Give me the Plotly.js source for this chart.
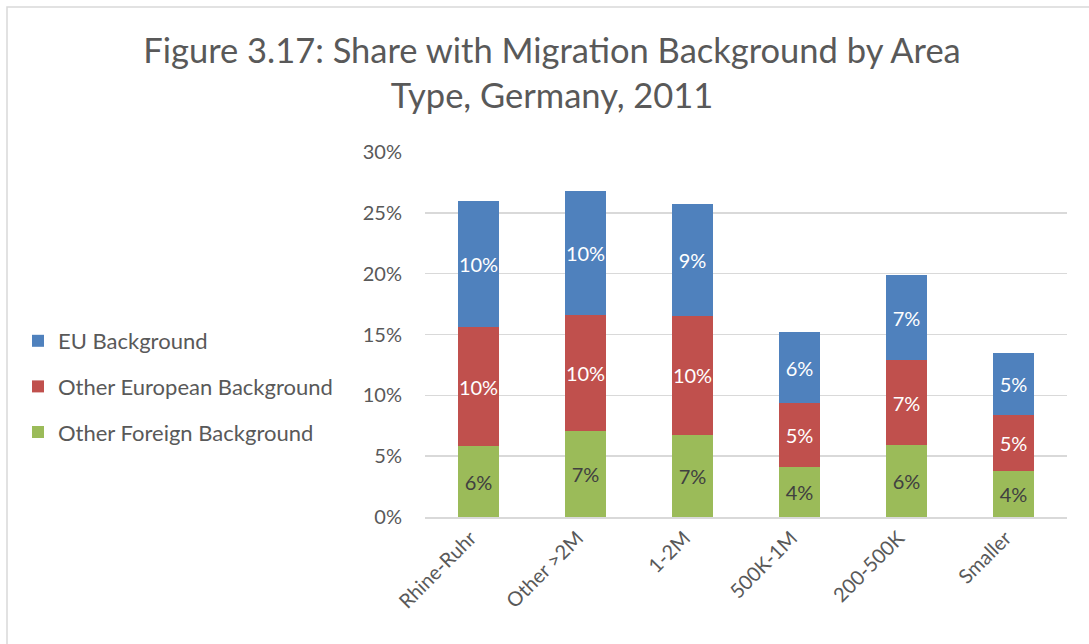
<!DOCTYPE html>
<html>
<head>
<meta charset="utf-8">
<script src="https://cdn.plot.ly/plotly-3.0.1.min.js"></script>
<style>html,body{margin:0;padding:0;background:#fff;}#chart{width:1089px;height:644px;}</style>
</head>
<body>
<div id="chart"></div>
<script>
const categories = ["Rhine-Ruhr", "Other >2M", "1-2M", "500K-1M", "200-500K", "Smaller"];
const otherForeign = [5.83, 7.06, 6.73, 4.09, 5.88, 3.76];
const otherEuropean = [9.77, 9.51, 9.82, 5.25, 7.00, 4.61];
const euBackground = [10.35, 10.20, 9.16, 5.84, 7.02, 5.15];
const yTicks = [0, 5, 10, 15, 20, 25, 30];

const W = 1089, H = 644;
const L = 425, R = 22, T = 152, B = 127;
const pw = W - L - R, ph = H - T - B;
const FONT = "Lato, 'Open Sans', sans-serif";

function lbl(arr) { return arr.map(v => Math.round(v) + "%"); }

function trace(name, vals, color, txtColor, grp, rank) {
  return {
    type: "bar", name: name, x: categories, y: vals,
    marker: {color: color},
    text: lbl(vals), textposition: "inside", insidetextanchor: "middle",
    textfont: {family: FONT, size: 20, color: txtColor},
    textangle: 0, constraintext: "none",
    legendgroup: grp, legendrank: rank, hoverinfo: "skip"
  };
}

const data = [
  trace("Other Foreign Background", otherForeign, "#9BBB59", "#404040", "g3", 3),
  trace("Other European Background", otherEuropean, "#C0504D", "#ffffff", "g2", 2),
  trace("EU Background", euBackground, "#4F81BD", "#ffffff", "g1", 1)
];

const layout = {
  width: W, height: H,
  margin: {l: L, r: R, t: T, b: B},
  paper_bgcolor: "#ffffff", plot_bgcolor: "#ffffff",
  barmode: "stack", bargap: 0.61,
  font: {family: FONT, color: "#595959", size: 20},
  title: {
    text: "Figure 3.17: Share with Migration Background by Area<br>Type, Germany, 2011",
    font: {family: FONT, size: 34.5, color: "#595959"},
    x: 552 / W, xanchor: "center", xref: "container",
    y: 1 - 63 / H, yanchor: "top", yref: "container"
  },
  showlegend: true,
  legend: {
    traceorder: "grouped", tracegroupgap: 14,
    xref: "container", yref: "container",
    x: 18 / W, xanchor: "left", y: 1 - 320 / H, yanchor: "top",
    font: {family: FONT, size: 22, color: "#595959"},
    bgcolor: "rgba(0,0,0,0)"
  },
  uniformtext: {minsize: 20, mode: "show"},
  xaxis: {
    type: "category", tickangle: -45,
    tickfont: {family: FONT, size: 20, color: "#595959"},
    showgrid: false, showline: true, linecolor: "#d9d9d9", linewidth: 1.5,
    ticks: "", ticklabelshift: -8, fixedrange: true
  },
  yaxis: {
    range: [0, 30], tickvals: yTicks, ticktext: yTicks.map(v => v + "%"),
    tickfont: {family: FONT, size: 20, color: "#595959"},
    showgrid: true, gridcolor: "#d9d9d9", gridwidth: 1.5,
    zeroline: false, showline: false, ticks: "", ticklabelstandoff: 22,
    fixedrange: true
  },
  shapes: [{
    type: "rect", xref: "paper", yref: "paper",
    x0: (7 - L) / pw, x1: (W + 20 - L) / pw,
    y0: -(H + 20 - T - ph) / ph, y1: (T + ph - 7) / ph,
    line: {color: "#d9d9d9", width: 1.5}, fillcolor: "rgba(0,0,0,0)", layer: "below"
  }]
};

Plotly.newPlot("chart", data, layout, {displayModeBar: false, staticPlot: true});
</script>
</body>
</html>
